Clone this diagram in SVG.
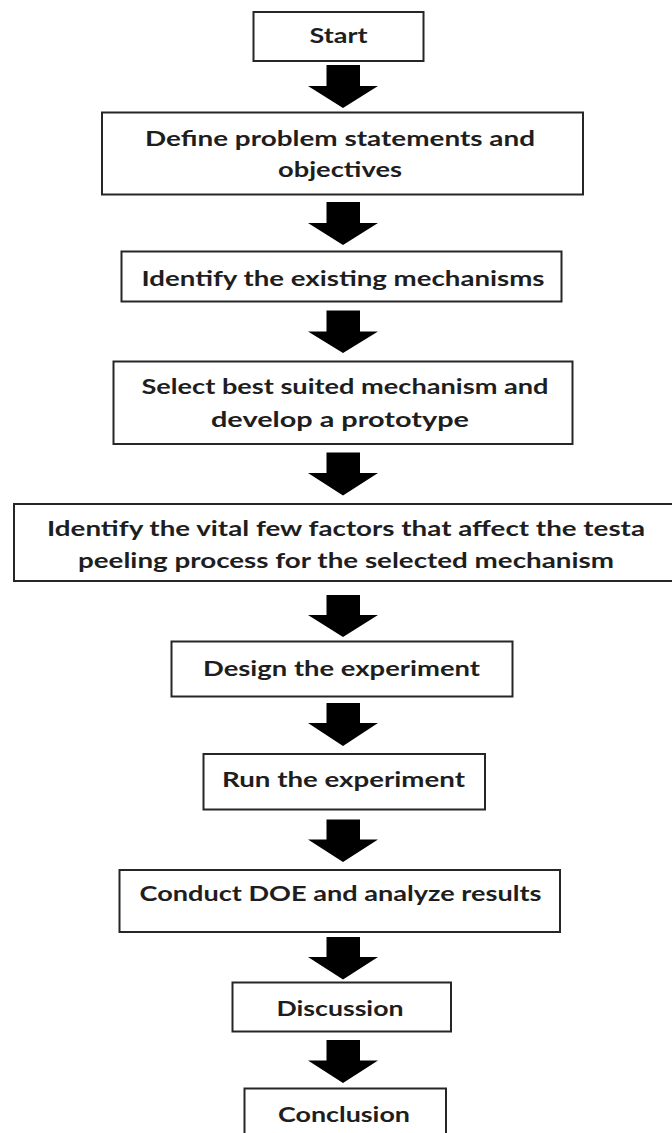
<svg xmlns="http://www.w3.org/2000/svg" width="672" height="1133" viewBox="0 0 672 1133">
<style>
.box{fill:#ffffff;stroke:#262626;stroke-width:2}
.t{font-family:Lato,"Liberation Sans",Arial,sans-serif;font-weight:bold;font-size:21px;fill:#1e1e1e;text-anchor:middle}
.arr{fill:#000000}
</style>
<rect x="0" y="0" width="672" height="1133" fill="#ffffff"/>
<g id="connectors">
<polygon class="arr" points="326.5,65 360,65 360,86 378,86 343,108 308,86 326.5,86"/>
<polygon class="arr" points="326.5,202 360,202 360,223 378,223 343,245 308,223 326.5,223"/>
<polygon class="arr" points="326.5,310.5 360,310.5 360,331.5 378,331.5 343,353 308,331.5 326.5,331.5"/>
<polygon class="arr" points="326.5,452.5 360,452.5 360,473 378,473 343,495.5 308,473 326.5,473"/>
<polygon class="arr" points="326.5,595 360,595 360,615 378,615 343,637 308,615 326.5,615"/>
<polygon class="arr" points="326.5,703 360,703 360,723 378,723 343,746 308,723 326.5,723"/>
<polygon class="arr" points="326.5,819.5 360,819.5 360,839.5 378,839.5 343,862 308,839.5 326.5,839.5"/>
<polygon class="arr" points="326.5,937 360,937 360,957 378,957 343,979.5 308,957 326.5,957"/>
<polygon class="arr" points="326.5,1040 360,1040 360,1060.5 378,1060.5 343,1083 308,1060.5 326.5,1060.5"/>
</g>
<g id="start">
<rect class="box" x="253.5" y="12" width="170" height="49"/>
<text class="t" x="338.5" y="43" textLength="58" lengthAdjust="spacingAndGlyphs">Start</text>
</g>
<g id="define">
<rect class="box" x="102" y="112.5" width="481" height="82"/>
<text class="t" x="340" y="145.5" textLength="390" lengthAdjust="spacingAndGlyphs">Define problem statements and</text>
<text class="t" x="340" y="176.5" textLength="124" lengthAdjust="spacingAndGlyphs">objectives</text>
</g>
<g id="identify">
<rect class="box" x="121.5" y="251.5" width="440" height="50"/>
<text class="t" x="343" y="285.5" textLength="403" lengthAdjust="spacingAndGlyphs">Identify the existing mechanisms</text>
</g>
<g id="select">
<rect class="box" x="113.5" y="361.5" width="459" height="82.5"/>
<text class="t" x="345" y="394" textLength="407" lengthAdjust="spacingAndGlyphs">Select best suited mechanism and</text>
<text class="t" x="340" y="427" textLength="258" lengthAdjust="spacingAndGlyphs">develop a prototype</text>
</g>
<g id="vital">
<rect class="box" x="14" y="504" width="664" height="77"/>
<text class="t" x="346" y="535.5" textLength="598" lengthAdjust="spacingAndGlyphs">Identify the vital few factors that affect the testa</text>
<text class="t" x="346" y="567.5" textLength="536" lengthAdjust="spacingAndGlyphs">peeling process for the selected mechanism</text>
</g>
<g id="design">
<rect class="box" x="171.5" y="641.5" width="341" height="55"/>
<text class="t" x="341.5" y="675.5" textLength="277" lengthAdjust="spacingAndGlyphs">Design the experiment</text>
</g>
<g id="run">
<rect class="box" x="203.5" y="754" width="281.5" height="55.5"/>
<text class="t" x="343.5" y="787" textLength="243" lengthAdjust="spacingAndGlyphs">Run the experiment</text>
</g>
<g id="conduct">
<rect class="box" x="119.5" y="870" width="440.5" height="62"/>
<text class="t" x="340.5" y="901" textLength="402" lengthAdjust="spacingAndGlyphs">Conduct DOE and analyze results</text>
</g>
<g id="discussion">
<rect class="box" x="232.5" y="982.5" width="218.5" height="49"/>
<text class="t" x="340" y="1015.5" textLength="127" lengthAdjust="spacingAndGlyphs">Discussion</text>
</g>
<g id="conclusion">
<rect class="box" x="244.5" y="1088.5" width="201.5" height="60"/>
<text class="t" x="344" y="1122" textLength="132" lengthAdjust="spacingAndGlyphs">Conclusion</text>
</g>
</svg>
